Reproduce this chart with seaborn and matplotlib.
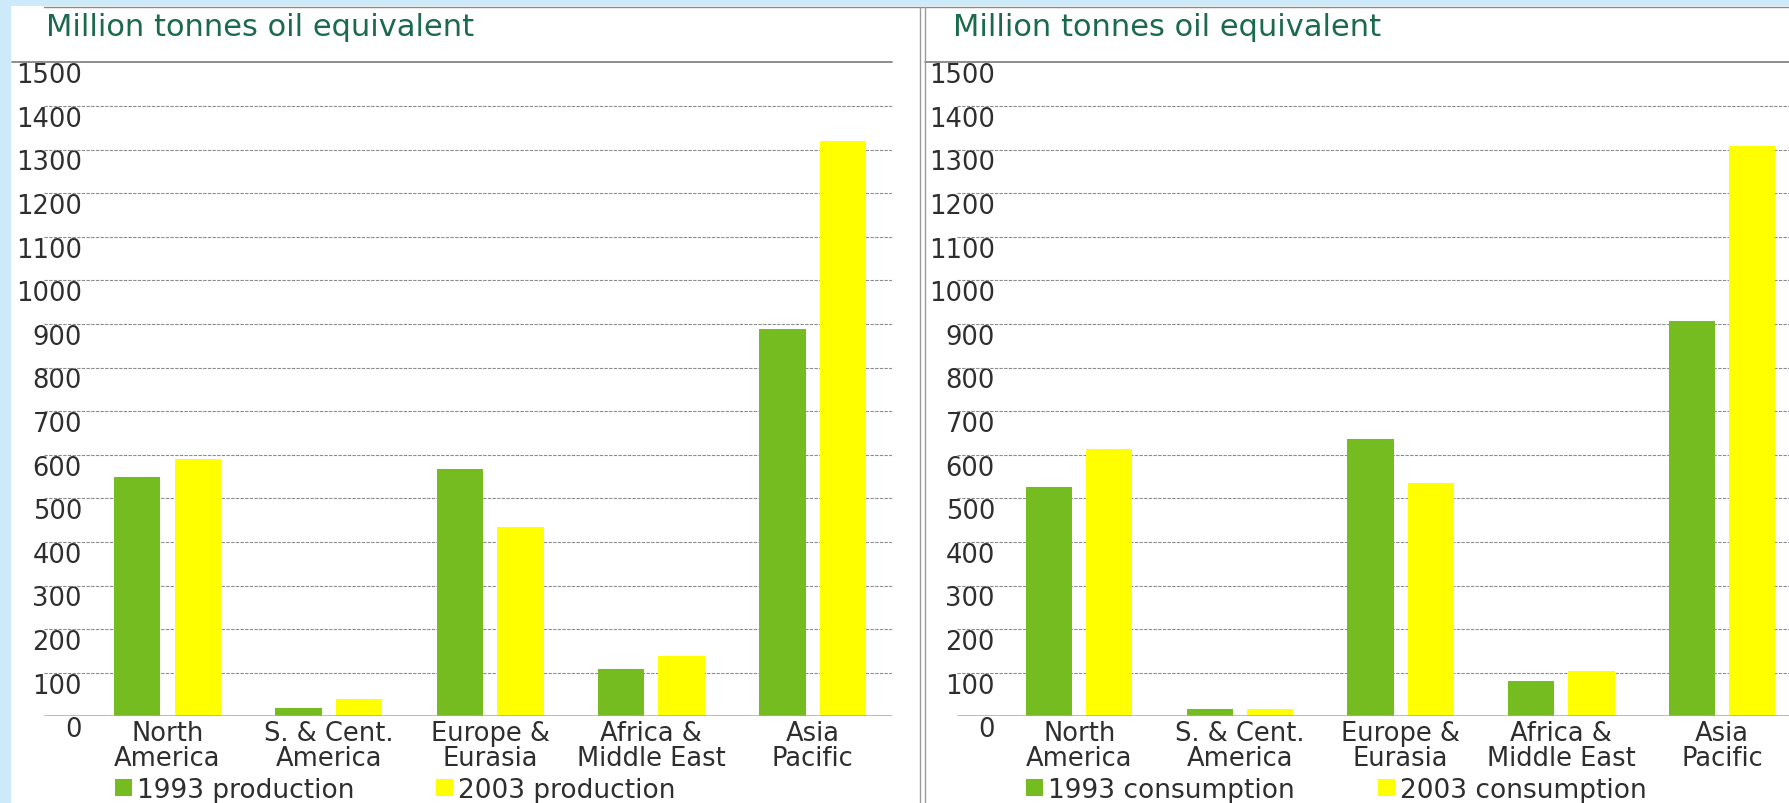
import matplotlib
matplotlib.use("Agg")
import matplotlib.pyplot as plt
from matplotlib.patches import Patch, Rectangle
from matplotlib.lines import Line2D
from matplotlib.transforms import ScaledTranslation
import pandas as pd
import seaborn as sns

# ---- data -------------------------------------------------------------
regions = ["North\nAmerica", "S. & Cent.\nAmerica", "Europe &\nEurasia",
           "Africa &\nMiddle East", "Asia\nPacific"]
production_1993 = [548, 20, 567, 109, 888]
production_2003 = [590, 40, 435, 138, 1320]
consumption_1993 = [527, 17, 636, 80, 906]
consumption_2003 = [613, 17, 535, 104, 1309]
production_series = ["1993 production", "2003 production"]
consumption_series = ["1993 consumption", "2003 consumption"]
y_ticks = list(range(0, 1501, 100))
unit_label = "Million tonnes oil equivalent"

# ---- style ------------------------------------------------------------
GREEN = "#74BC1F"
YELLOW = "#FFFF00"
FRAME_BLUE = "#CDEAFB"
TITLE_GREEN = "#1C6A4E"
TEXT_GREY = "#2E2E2E"
GRID_GREY = "#8C8C8C"
TICK_SIZE = 18.5
LEGEND_SIZE = 19
TITLE_SIZE = 22

sns.set_theme(style="white")
plt.rcParams["font.family"] = ["DejaVu Sans"]

W, H, DPI = 1790, 804, 100
fig = plt.figure(figsize=(W / DPI, H / DPI), dpi=DPI, facecolor="white")


def fx(px):
    return px / W


def fy(py):
    # pixel row measured from the top -> figure fraction
    return 1 - py / H


# light blue frame along the left and top edges
fig.patches.append(Rectangle((0, 0), fx(11.5), 1, transform=fig.transFigure,
                             facecolor=FRAME_BLUE, edgecolor="none", zorder=0))
fig.patches.append(Rectangle((0, fy(7)), 1, 7 / H, transform=fig.transFigure,
                             facecolor=FRAME_BLUE, edgecolor="none", zorder=0))
fig.add_artist(Line2D([fx(44), 1], [fy(7.5), fy(7.5)], transform=fig.transFigure,
                      color="#8A8A8A", lw=1.0))
# double divider between the two panels
for xp in (920, 924.6):
    fig.add_artist(Line2D([fx(xp), fx(xp)], [0, fy(7.5)], transform=fig.transFigure,
                          color="#9A9A9A", lw=1.0))

AX_BOTTOM, AX_TOP = 717.3, 63.3
FONT_PX = LEGEND_SIZE * DPI / 72


def draw_panel(left_px, right_px, frame_left_px, xlim, v1993, v2003, names,
               title_x, legend_x, colspacing):
    ax = fig.add_axes([fx(left_px), fy(AX_BOTTOM), fx(right_px - left_px),
                       (AX_BOTTOM - AX_TOP) / H])
    ax.set_facecolor("none")
    df = pd.DataFrame({
        "region": regions * 2,
        "value": list(v1993) + list(v2003),
        "series": [names[0]] * len(regions) + [names[1]] * len(regions),
    })
    sns.barplot(data=df, x="region", y="value", hue="series",
                palette=[GREEN, YELLOW], saturation=1, width=0.75, gap=0.232,
                errorbar=None, linewidth=0, legend=False, ax=ax, zorder=3)
    ax.set_xlim(*xlim)
    ax.set_ylim(0, 1500)
    ax.set_xlabel("")
    ax.set_ylabel("")
    for s in ax.spines.values():
        s.set_visible(False)

    # dashed gridlines, solid zero line, solid top rule
    for t in y_ticks[1:-1]:
        ax.axhline(t, color=GRID_GREY, lw=0.8, ls=(0, (3, 1.2)), zorder=1)
    ax.axhline(0, color="#A8A8A8", lw=1.8, zorder=4)
    x0 = (frame_left_px - left_px) / (right_px - left_px)
    ax.plot([x0, 1], [1500, 1500], transform=ax.get_yaxis_transform(),
            color="#7A7A7A", lw=1.2, clip_on=False, zorder=4)

    ax.set_yticks(y_ticks)
    ax.set_yticklabels([str(t) for t in y_ticks])
    ax.tick_params(axis="y", length=0, pad=-38 * 72 / DPI, labelsize=TICK_SIZE,
                   labelcolor=TEXT_GREY)
    shift = ScaledTranslation(0, -10 / DPI, fig.dpi_scale_trans)
    for lab in ax.get_yticklabels():
        lab.set_transform(lab.get_transform() + shift)

    ax.tick_params(axis="x", length=0, pad=3, labelsize=TICK_SIZE,
                   labelcolor=TEXT_GREY)
    for lab in ax.get_xticklabels():
        lab.set_linespacing(0.92)

    fig.text(fx(title_x), fy(36), unit_label, color=TITLE_GREEN,
             fontsize=TITLE_SIZE, va="baseline", ha="left")

    handles = [Patch(facecolor=GREEN, edgecolor="none", label=names[0]),
               Patch(facecolor=YELLOW, edgecolor="none", label=names[1])]
    ax.legend(handles=handles, loc="center left",
              bbox_to_anchor=(fx(legend_x), fy(791)), bbox_transform=fig.transFigure,
              ncol=2, frameon=False, fontsize=LEGEND_SIZE,
              handlelength=17 / FONT_PX, handleheight=17 / FONT_PX,
              handletextpad=5 / FONT_PX, columnspacing=colspacing,
              borderpad=0, borderaxespad=0, labelcolor=TEXT_GREY)
    return ax


draw_panel(44, 892, 11.5, (-0.7657, 4.4916), production_1993, production_2003,
           production_series, 46, 115, 3.1)
draw_panel(957, 1790, 924.6, (-0.7604, 4.423), consumption_1993, consumption_2003,
           consumption_series, 953, 1026, 3.15)

fig.savefig("out.png", dpi=DPI, facecolor="white")
